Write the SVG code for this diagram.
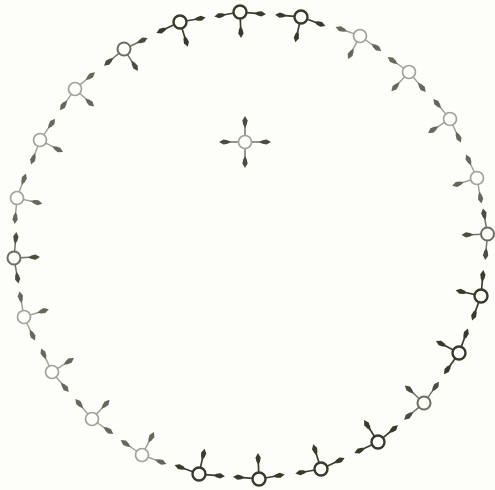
<svg xmlns="http://www.w3.org/2000/svg" xmlns:xlink="http://www.w3.org/1999/xlink" width="495" height="490" viewBox="0 0 495 490">
<style>
.nd circle{fill:#fdfdf9}
.d circle{stroke:#383b2c;stroke-width:2.4}
.m circle{stroke:#6b6e61;stroke-width:2}
.l circle{stroke:#a2a49a;stroke-width:1.7}
</style>
<defs>
<g id="spD"><line x1="6" y1="0" x2="16" y2="0" stroke="#3c3f30" stroke-width="1.7"/><path d="M26,0 L21.5,-2.6 L17.5,-1.8 L14,0 L17.5,1.8 L21.5,2.6 Z" fill="#383b2c"/></g>
<g id="spM"><line x1="6" y1="0" x2="16" y2="0" stroke="#717467" stroke-width="1.5"/><path d="M26,0 L21.5,-2.6 L17.5,-1.8 L14,0 L17.5,1.8 L21.5,2.6 Z" fill="#4a4d3f"/></g>
<g id="spL"><line x1="6" y1="0" x2="16" y2="0" stroke="#9c9e94" stroke-width="1.4"/><path d="M26,0 L21.5,-2.6 L17.5,-1.8 L14,0 L17.5,1.8 L21.5,2.6 Z" fill="#65685b"/></g>
</defs>
<rect width="495" height="490" fill="#fdfdf9"/>
<g id="connectors">
<use href="#spD" transform="translate(240,12) rotate(5.1)"/><use href="#spD" transform="translate(240,12) rotate(170.1)"/><use href="#spD" transform="translate(240,12) rotate(87.6)"/>
<use href="#spD" transform="translate(301,17) rotate(20.1)"/><use href="#spD" transform="translate(301,17) rotate(185.1)"/><use href="#spD" transform="translate(301,17) rotate(102.6)"/>
<use href="#spL" transform="translate(360,36) rotate(35.1)"/><use href="#spL" transform="translate(360,36) rotate(200.1)"/><use href="#spL" transform="translate(360,36) rotate(117.6)"/>
<use href="#spL" transform="translate(409,72) rotate(50.1)"/><use href="#spL" transform="translate(409,72) rotate(215.1)"/><use href="#spL" transform="translate(409,72) rotate(132.6)"/>
<use href="#spL" transform="translate(450,119) rotate(65.1)"/><use href="#spL" transform="translate(450,119) rotate(230.1)"/><use href="#spL" transform="translate(450,119) rotate(147.6)"/>
<use href="#spL" transform="translate(477,178) rotate(80.1)"/><use href="#spL" transform="translate(477,178) rotate(245.1)"/><use href="#spL" transform="translate(477,178) rotate(162.6)"/>
<use href="#spM" transform="translate(487.5,234) rotate(95.1)"/><use href="#spM" transform="translate(487.5,234) rotate(260.1)"/><use href="#spM" transform="translate(487.5,234) rotate(177.6)"/>
<use href="#spD" transform="translate(481,296) rotate(110.1)"/><use href="#spD" transform="translate(481,296) rotate(275.1)"/><use href="#spD" transform="translate(481,296) rotate(192.6)"/>
<use href="#spD" transform="translate(459,353) rotate(125.1)"/><use href="#spD" transform="translate(459,353) rotate(290.1)"/><use href="#spD" transform="translate(459,353) rotate(207.6)"/>
<use href="#spM" transform="translate(424,403) rotate(140.1)"/><use href="#spM" transform="translate(424,403) rotate(305.1)"/><use href="#spM" transform="translate(424,403) rotate(222.6)"/>
<use href="#spD" transform="translate(378,442) rotate(155.1)"/><use href="#spD" transform="translate(378,442) rotate(320.1)"/><use href="#spD" transform="translate(378,442) rotate(237.6)"/>
<use href="#spD" transform="translate(321,469) rotate(170.1)"/><use href="#spD" transform="translate(321,469) rotate(335.1)"/><use href="#spD" transform="translate(321,469) rotate(252.6)"/>
<use href="#spD" transform="translate(259,479) rotate(185.1)"/><use href="#spD" transform="translate(259,479) rotate(350.1)"/><use href="#spD" transform="translate(259,479) rotate(267.6)"/>
<use href="#spD" transform="translate(199,474) rotate(200.1)"/><use href="#spD" transform="translate(199,474) rotate(5.1)"/><use href="#spD" transform="translate(199,474) rotate(282.6)"/>
<use href="#spL" transform="translate(142,455) rotate(215.1)"/><use href="#spL" transform="translate(142,455) rotate(20.1)"/><use href="#spL" transform="translate(142,455) rotate(297.6)"/>
<use href="#spL" transform="translate(92,419) rotate(230.1)"/><use href="#spL" transform="translate(92,419) rotate(35.1)"/><use href="#spL" transform="translate(92,419) rotate(312.6)"/>
<use href="#spL" transform="translate(52,372) rotate(245.1)"/><use href="#spL" transform="translate(52,372) rotate(50.1)"/><use href="#spL" transform="translate(52,372) rotate(327.6)"/>
<use href="#spL" transform="translate(24,317) rotate(260.1)"/><use href="#spL" transform="translate(24,317) rotate(65.1)"/><use href="#spL" transform="translate(24,317) rotate(342.6)"/>
<use href="#spM" transform="translate(14,258) rotate(275.1)"/><use href="#spM" transform="translate(14,258) rotate(80.1)"/><use href="#spM" transform="translate(14,258) rotate(357.6)"/>
<use href="#spL" transform="translate(17,198) rotate(290.1)"/><use href="#spL" transform="translate(17,198) rotate(95.1)"/><use href="#spL" transform="translate(17,198) rotate(12.6)"/>
<use href="#spL" transform="translate(40,140) rotate(305.1)"/><use href="#spL" transform="translate(40,140) rotate(110.1)"/><use href="#spL" transform="translate(40,140) rotate(27.6)"/>
<use href="#spL" transform="translate(75,89) rotate(320.1)"/><use href="#spL" transform="translate(75,89) rotate(125.1)"/><use href="#spL" transform="translate(75,89) rotate(42.6)"/>
<use href="#spM" transform="translate(124,49) rotate(335.1)"/><use href="#spM" transform="translate(124,49) rotate(140.1)"/><use href="#spM" transform="translate(124,49) rotate(57.6)"/>
<use href="#spD" transform="translate(180,22) rotate(350.1)"/><use href="#spD" transform="translate(180,22) rotate(155.1)"/><use href="#spD" transform="translate(180,22) rotate(72.6)"/>
<use href="#spM" transform="translate(245,142) rotate(0)"/><use href="#spM" transform="translate(245,142) rotate(90)"/><use href="#spM" transform="translate(245,142) rotate(180)"/><use href="#spM" transform="translate(245,142) rotate(270)"/>
</g>
<g id="nodes">
<g id="n0" class="nd d"><circle cx="240" cy="12" r="6.5"/></g>
<g id="n1" class="nd d"><circle cx="301" cy="17" r="6.5"/></g>
<g id="n2" class="nd l"><circle cx="360" cy="36" r="6.5"/></g>
<g id="n3" class="nd l"><circle cx="409" cy="72" r="6.5"/></g>
<g id="n4" class="nd l"><circle cx="450" cy="119" r="6.5"/></g>
<g id="n5" class="nd l"><circle cx="477" cy="178" r="6.5"/></g>
<g id="n6" class="nd m"><circle cx="487.5" cy="234" r="6.5"/></g>
<g id="n7" class="nd d"><circle cx="481" cy="296" r="6.5"/></g>
<g id="n8" class="nd d"><circle cx="459" cy="353" r="6.5"/></g>
<g id="n9" class="nd m"><circle cx="424" cy="403" r="6.5"/></g>
<g id="n10" class="nd d"><circle cx="378" cy="442" r="6.5"/></g>
<g id="n11" class="nd d"><circle cx="321" cy="469" r="6.5"/></g>
<g id="n12" class="nd d"><circle cx="259" cy="479" r="6.5"/></g>
<g id="n13" class="nd d"><circle cx="199" cy="474" r="6.5"/></g>
<g id="n14" class="nd l"><circle cx="142" cy="455" r="6.5"/></g>
<g id="n15" class="nd l"><circle cx="92" cy="419" r="6.5"/></g>
<g id="n16" class="nd l"><circle cx="52" cy="372" r="6.5"/></g>
<g id="n17" class="nd l"><circle cx="24" cy="317" r="6.5"/></g>
<g id="n18" class="nd m"><circle cx="14" cy="258" r="6.5"/></g>
<g id="n19" class="nd l"><circle cx="17" cy="198" r="6.5"/></g>
<g id="n20" class="nd l"><circle cx="40" cy="140" r="6.5"/></g>
<g id="n21" class="nd l"><circle cx="75" cy="89" r="6.5"/></g>
<g id="n22" class="nd m"><circle cx="124" cy="49" r="6.5"/></g>
<g id="n23" class="nd d"><circle cx="180" cy="22" r="6.5"/></g>
<g id="center" class="nd l"><circle cx="245" cy="142" r="6.5"/></g>
</g>
</svg>
